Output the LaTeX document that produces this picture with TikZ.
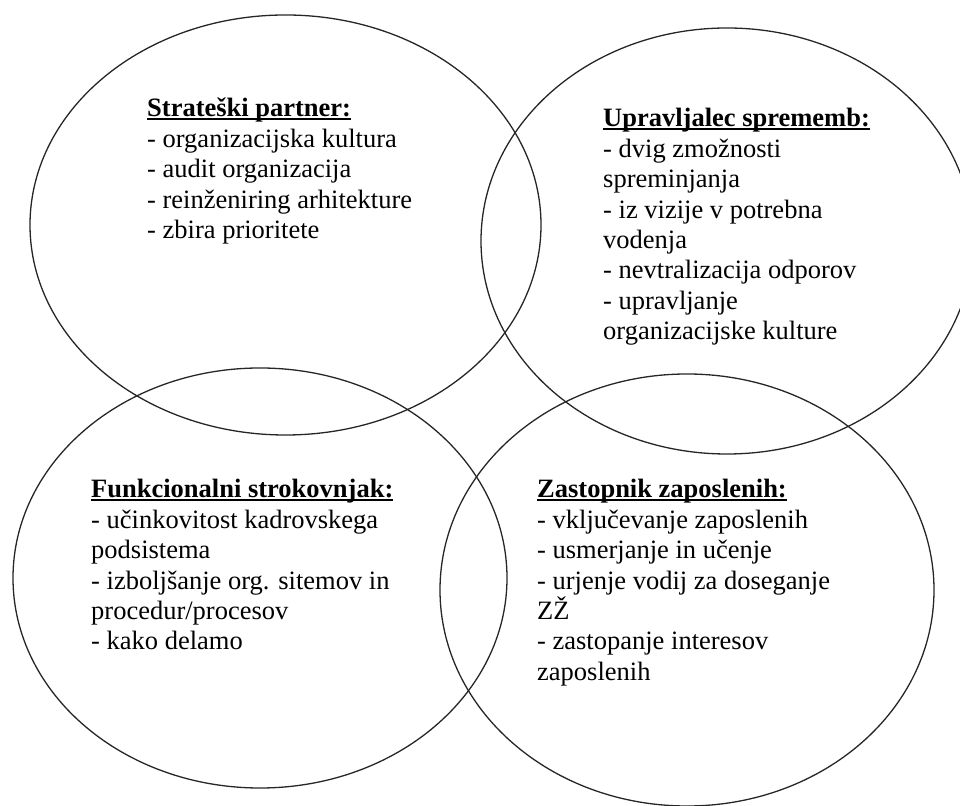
\documentclass[tikz,border=0pt]{standalone}
\usepackage{fontspec}
\setmainfont{Liberation Serif}
\usetikzlibrary{shapes.geometric}
\newcommand\headul[1]{\setbox0\hbox{\bfseries #1}\rlap{\rule[-3.2pt]{\wd0}{2.1pt}}\box0}
\tikzset{
  ring/.style={ellipse, draw=black!85, line width=1.3pt, inner sep=0pt},
  txt/.style={anchor=base west, align=left, inner sep=0pt,
    font=\fontsize{26.5pt}{30.4pt}\selectfont}
}
\begin{document}
\begin{tikzpicture}[x=1pt,y=1pt]
\useasboundingbox (0,0) rectangle (960,805);
\node[ring, minimum width=511pt, minimum height=420pt] (tl) at (285.5,580) {};
\node[ring, minimum width=492pt, minimum height=426pt] (tr) at (727,564) {};
\node[ring, minimum width=494pt, minimum height=420pt] (bl) at (260,227) {};
\node[ring, minimum width=494pt, minimum height=432pt] (br) at (687,215) {};
\node[txt] (ttl) at (147,566.4) {\headul{Strateški partner:}\\- organizacijska kultura\\- audit organizacija\\- reinženiring arhitekture\\- zbira prioritete};
\node[txt] (ttr) at (603,465.2) {\headul{Upravljalec sprememb:}\\- dvig zmožnosti\\spreminjanja\\- iz vizije v potrebna\\vodenja\\- nevtralizacija odporov\\- upravljanje\\organizacijske kulture};
\node[txt] (tbl) at (91,155) {\headul{Funkcionalni strokovnjak:}\\- učinkovitost kadrovskega\\podsistema\\- izboljšanje org. sitemov in\\procedur/procesov\\- kako delamo};
\node[txt] (tbr) at (537,124.6) {\headul{Zastopnik zaposlenih:}\\- vključevanje zaposlenih\\- usmerjanje in učenje\\- urjenje vodij za doseganje\\ZŽ\\- zastopanje interesov\\zaposlenih};
\end{tikzpicture}
\end{document}
